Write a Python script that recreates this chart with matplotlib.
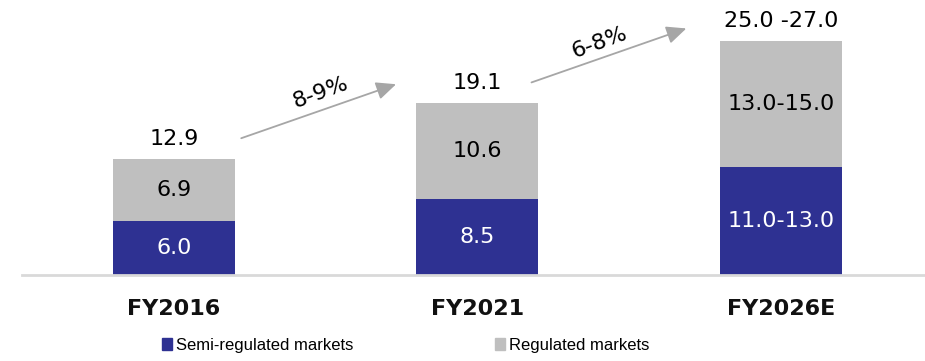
import matplotlib.pyplot as plt
from matplotlib.patches import Patch

# data
categories = ['FY2016', 'FY2021', 'FY2026E']
semi = [6.0, 8.5, 12.0]        # FY2026E shown as range 11.0-13.0
regulated = [6.9, 10.6, 14.0]  # FY2026E shown as range 13.0-15.0
semi_labels = ['6.0', '8.5', '11.0-13.0']
reg_labels = ['6.9', '10.6', '13.0-15.0']
total_labels = ['12.9', '19.1', '25.0 -27.0']
growth_labels = ['8-9%', '6-8%']

blue = '#2e3192'
grey = '#bfbfbf'
arrow_col = '#a6a6a6'

fig = plt.figure(figsize=(9.25, 3.61), dpi=100)
ax = fig.add_axes([0.0238, 0.2382, 0.9762, 0.7618])

x = list(range(len(categories)))
totals = [s + r for s, r in zip(semi, regulated)]

ax.bar(x, semi, width=0.402, color=blue)
ax.bar(x, regulated, width=0.402, bottom=semi, color=grey)

for i in x:
    ax.text(i, semi[i] / 2, semi_labels[i], ha='center', va='center',
            fontsize=16, color='white')
    ax.text(i, semi[i] + regulated[i] / 2, reg_labels[i], ha='center',
            va='center', fontsize=16, color='black')
    ax.annotate(total_labels[i], (i, totals[i]), xytext=(0, 7),
                textcoords='offset points', ha='center', va='bottom',
                fontsize=16, color='black')

# growth arrows between bars (small per-arrow nudges)
arrow_dx = [0.022, -0.022]
label_dx = [0.006, -0.03]
label_dy = [2.1, 1.4]
for i, lab in enumerate(growth_labels):
    x0, y0 = i + 0.2 + arrow_dx[i], totals[i] + 2.3
    x1, y1 = i + 0.71 + arrow_dx[i], totals[i] + 8.3
    ax.annotate('', xy=(x1, y1), xytext=(x0, y0),
                arrowprops=dict(arrowstyle='-|>,head_length=1.0,head_width=0.45',
                                mutation_scale=12, color=arrow_col, lw=1.3,
                                shrinkA=0, shrinkB=0))
    ax.text((x0 + x1) / 2 + label_dx[i], (y0 + y1) / 2 + label_dy[i], lab,
            ha='center', va='center', rotation=20, fontsize=16, color='black')

ax.set_xlim(-0.5, 2.474)
ax.set_ylim(0, 30.56)
ax.set_xticks(x)
ax.set_xticklabels(categories, fontsize=16, fontweight='bold', color='#111111')
ax.tick_params(axis='x', length=0, pad=17)
ax.set_yticks([])
for s in ['top', 'left', 'right']:
    ax.spines[s].set_visible(False)
ax.spines['bottom'].set_color('#d9d9d9')
ax.spines['bottom'].set_linewidth(2)

handles = [Patch(color=blue, label='Semi-regulated markets'),
           Patch(color=grey, label='Regulated markets')]
fig.legend(handles=handles, loc='center left', bbox_to_anchor=(0.1664, 0.044),
           ncol=2, frameon=False, borderpad=0, handlelength=0.6,
           handleheight=0.7, handletextpad=0.25, columnspacing=8.45,
           prop={'family': 'Liberation Sans', 'size': 12})

fig.savefig('out.png', dpi=100)
